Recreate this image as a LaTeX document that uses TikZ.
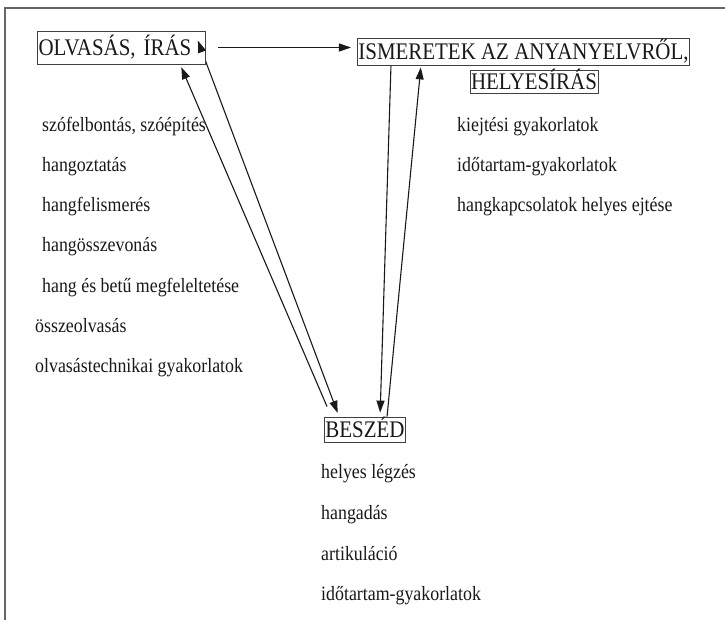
\documentclass[tikz,border=0pt]{standalone}
\usepackage{fontspec}
\setmainfont[FakeStretch=0.88]{Liberation Serif}
\usetikzlibrary{arrows.meta, positioning, calc}
\pgfdeclarelayer{back}
\pgfsetlayers{back,main}

\newcommand{\bigtext}{\fontsize{23.8}{26}\selectfont}
\newcommand{\smalltext}{\fontsize{20.3}{22}\selectfont}

\tikzset{
  topic/.style={draw=black!75, line width=0.8pt, fill=white, inner xsep=1pt, inner ysep=0pt,
    text height=15.5pt, text depth=0pt, font=\bigtext, text=black!90},
  item/.style={anchor=base west, inner sep=0pt, font=\smalltext, text=black!90},
  link/.style={line width=1.1pt, draw=black!90, -{Triangle[length=12pt, width=8pt]}},
}

\begin{document}
\begin{tikzpicture}[x=1pt, y=-1pt]
        \useasboundingbox (0,0) rectangle (725,620);
        \draw[black!60, line width=1.6pt] (5,620) -- (5,8) -- (725,8);

        % the four topics
        \node[topic, minimum height=33pt, text width=166pt, align=left] (olvas) at (121.5,47.5) {OLVASÁS, ÍRÁS};
        \node[topic, minimum height=27pt] (ismeretek) at (523.5,51.5) {ISMERETEK AZ ANYANYELVRŐL,};
        \node[topic, minimum height=23pt] (helyes) at (534,81.5) {HELYESÍRÁS};
        \node[topic, minimum height=25pt] (beszed) at (365,429.5) {BESZÉD};

        % exercises
        \node[item] (szofel) at (42,132) {szófelbontás, szóépítés};
        \node[item] (hangoz) at (42,172) {hangoztatás};
        \node[item] (hangfel) at (42,212) {hangfelismerés};
        \node[item] (hangossz) at (42,252) {hangösszevonás};
        \node[item] (hangbetu) at (42,292) {hang és betű megfeleltetése};
        \node[item] (osszeolv) at (35,332) {összeolvasás};
        \node[item] (olvtech) at (35,372) {olvasástechnikai gyakorlatok};

        \node[item] (kiejtes) at (457,132) {kiejtési gyakorlatok};
        \node[item] (idotartamA) at (457,172) {időtartam-gyakorlatok};
        \node[item] (hangkapcs) at (457,212) {hangkapcsolatok helyes ejtése};

        \node[item] (legzes) at (321,478) {helyes légzés};
        \node[item] (hangadas) at (321,519) {hangadás};
        \node[item] (artik) at (321,560) {artikuláció};
        \node[item] (idotartamB) at (321,600) {időtartam-gyakorlatok};

        \coordinate (o2) at ($(olvas.north east)+(-8,10)$);
        \coordinate (b2) at ($(beszed.north west)+(15,0)$);
        \coordinate (b1) at ($(beszed.north west)+(3,-10)$);

        \begin{pgfonlayer}{back}
        \draw[link, shorten <=12pt, shorten >=6pt] (olvas.east) -- (olvas.east -| ismeretek.west);
        \draw[link, shorten >=4pt] ($(ismeretek.south west)+(34,0)$) -- ($(beszed.north west)+(56,0)$);
        \draw[link, shorten >=2pt] ($(beszed.north west)+(63,0)$) -- ($(ismeretek.south west)+(64,0)$);
        \draw[link, shorten >=3pt] (b1) -- ($(olvas.south west)+(143,0)$);
        \draw[link, shorten >=4pt] (o2) -- (b2);
        \end{pgfonlayer}
        \draw[link] ($(o2)!12pt!(b2)$) -- (o2);
\end{tikzpicture}
\end{document}
